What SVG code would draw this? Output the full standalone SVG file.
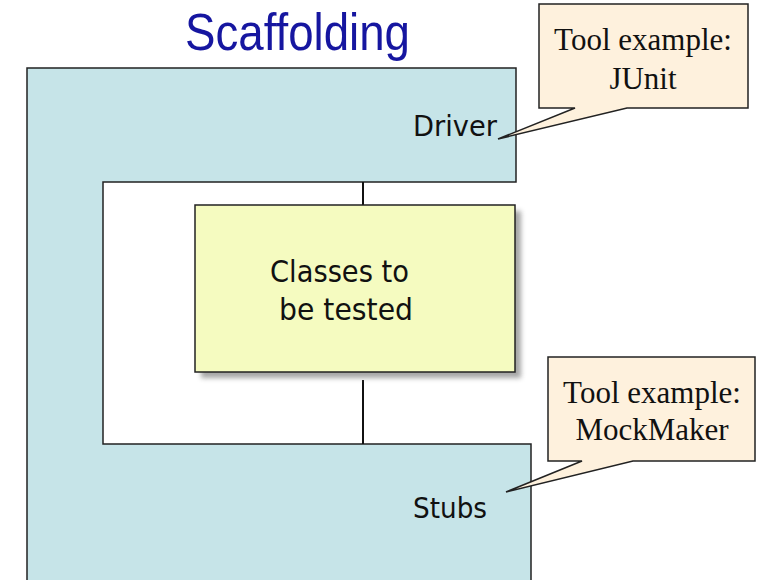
<svg xmlns="http://www.w3.org/2000/svg" width="757" height="580" viewBox="0 0 757 580">
<style>
.frame{fill:#c6e4e8;stroke:#222;stroke-width:1.5}
.box{fill:#f5fbc0;stroke:#222;stroke-width:1.5}
.call{fill:#fef1dd;stroke:#222;stroke-width:1.5}
.sans{font-family:"DejaVu Sans","Liberation Sans",sans-serif;font-size:28px;fill:#111}
.big{font-size:31px}
.serif{font-family:"Liberation Serif","Times New Roman",serif;font-size:31px;fill:#111;text-anchor:middle}
.title{font-family:"Liberation Sans",Arial,sans-serif;font-size:52px;fill:#1616a0}
.line{stroke:#111;stroke-width:2;fill:none}
</style>
<defs>
<filter id="sh" x="-10%" y="-10%" width="130%" height="130%">
<feGaussianBlur stdDeviation="2.5"/>
</filter>
</defs>
<rect width="757" height="580" fill="#fff"/>
<text class="title" x="185" y="50" textLength="225" lengthAdjust="spacingAndGlyphs">Scaffolding</text>
<g id="scaffold">
<path class="frame" d="M27,68 H516 V182 H103 V444 H531 V590 H27 Z"/>
<text class="sans" x="413" y="136" textLength="84" lengthAdjust="spacingAndGlyphs">Driver</text>
<text class="sans" x="413" y="518" textLength="74" lengthAdjust="spacingAndGlyphs">Stubs</text>
</g>
<g id="connectors">
<line class="line" x1="363" y1="182" x2="363" y2="205"/>
<line class="line" x1="363" y1="380" x2="363" y2="444"/>
</g>
<g id="classes">
<rect x="201" y="211" width="320" height="167" fill="#888" opacity="0.75" filter="url(#sh)"/>
<rect class="box" x="195" y="205" width="320" height="167"/>
<text class="sans big" x="270" y="282" textLength="139" lengthAdjust="spacingAndGlyphs">Classes to</text>
<text class="sans big" x="279" y="320" textLength="134" lengthAdjust="spacingAndGlyphs">be tested</text>
</g>
<g id="callout-junit">
<path class="call" d="M539,4 H748 V108 H627 L498,139 L575,108 H539 Z"/>
<text class="serif" x="643" y="50">Tool example:</text>
<text class="serif" x="643" y="89">JUnit</text>
</g>
<g id="callout-mockmaker">
<path class="call" d="M548,357 H755 V461 H633 L506,492 L582,461 H548 Z"/>
<text class="serif" x="652" y="403">Tool example:</text>
<text class="serif" x="652" y="440">MockMaker</text>
</g>
</svg>
